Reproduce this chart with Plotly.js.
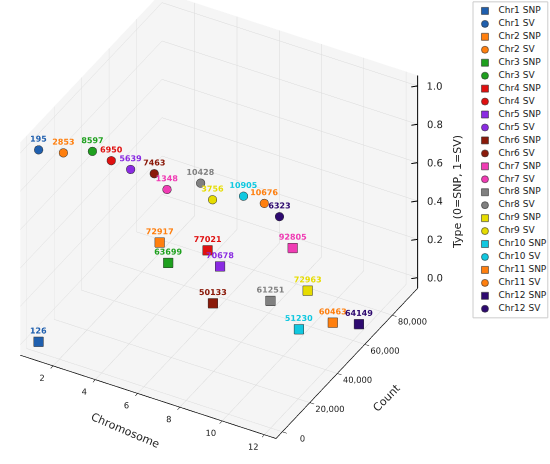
<!DOCTYPE html>
<html>
<head>
<meta charset="utf-8">
<script src="https://cdn.plot.ly/plotly-3.0.1.min.js"></script>
<style>html,body{margin:0;padding:0;background:#fff;}#chart{width:550px;height:464px;}</style>
</head>
<body>
<div id="chart"></div>
<script>
// ---- data ----
const chromosomes = [1, 2, 3, 4, 5, 6, 7, 8, 9, 10, 11, 12];
const snpCounts = [126, 72917, 63699, 77021, 70678, 50133, 92805, 61251, 72963, 51230, 60463, 64149];
const svCounts = [195, 2853, 8597, 6950, 5639, 7463, 1348, 10428, 3756, 10905, 10676, 6323];
const snpType = 0;
const svType = 1;
const chrColors = ['#1f5fae', '#ff7f0e', '#1ea01e', '#e01010', '#8a2be2', '#8b1a0a',
                   '#f03cb4', '#808080', '#e6dc00', '#10c8e0', '#ff7f0e', '#2e0a70'];
const xTicks = [2, 4, 6, 8, 10, 12];
const yTicks = [0, 20000, 40000, 60000, 80000];
const zTicks = [0, 0.2, 0.4, 0.6, 0.8, 1.0];
const xRange = [0.45, 12.55];
const yRange = [-4600, 98500];
const zRange = [-0.055, 1.055];

const FONT = 'DejaVu Sans, Liberation Sans, sans-serif';
const NB = '\u00a0';
const traces = [];

// 3D points
chromosomes.forEach((c, i) => {
  traces.push({
    type: 'scatter3d', mode: 'markers+text',
    x: [c], y: [snpCounts[i]], z: [snpType],
    text: [String(snpCounts[i])], textposition: 'top center',
    textfont: {family: FONT, size: 8, color: chrColors[i], weight: 'bold'},
    marker: {symbol: 'square', size: 5, color: chrColors[i], line: {color: '#333', width: 1}},
    showlegend: false, hoverinfo: 'skip'
  });
  traces.push({
    type: 'scatter3d', mode: 'markers+text',
    x: [c], y: [svCounts[i]], z: [svType],
    text: [String(svCounts[i])], textposition: 'top center',
    textfont: {family: FONT, size: 8, color: chrColors[i], weight: 'bold'},
    marker: {symbol: 'circle', size: 5, color: chrColors[i], line: {color: '#333', width: 1}},
    showlegend: false, hoverinfo: 'skip'
  });
});

// z axis drawn on the back-right vertical edge (as in the reference)
const zx = xRange[1], zy = yRange[1];
const zlx = [zx, zx], zly = [zy, zy], zlz = [zRange[0], zRange[1]];
zTicks.forEach(t => { zlx.push(null, zx - 0.2, zx); zly.push(null, zy - 1600, zy); zlz.push(null, t, t); });
traces.push({
  type: 'scatter3d', mode: 'lines', x: zlx, y: zly, z: zlz,
  line: {color: '#000', width: 2}, showlegend: false, hoverinfo: 'skip', connectgaps: false
});
traces.push({
  type: 'scatter3d', mode: 'text',
  x: zTicks.map(() => zx), y: zTicks.map(() => zy), z: zTicks,
  text: zTicks.map(t => NB + NB + t.toFixed(1)), textposition: 'middle right',
  textfont: {family: FONT, size: 10, color: '#222'},
  showlegend: false, hoverinfo: 'skip'
});

// custom legend drawn in a small 2D axis
const legX = [], legY = [], legText = [], legSym = [], legCol = [];
chromosomes.forEach((c, i) => {
  legX.push(0.16, 0.16); legY.push(2 * i, 2 * i + 1);
  legText.push('Chr' + c + ' SNP', 'Chr' + c + ' SV');
  legSym.push('square', 'circle'); legCol.push(chrColors[i], chrColors[i]);
});
traces.push({
  type: 'scatter', mode: 'markers', xaxis: 'x', yaxis: 'y',
  x: legX, y: legY,
  marker: {symbol: legSym, size: 7, color: legCol, line: {color: '#333', width: 0.6}},
  showlegend: false, hoverinfo: 'skip', cliponaxis: false
});
traces.push({
  type: 'scatter', mode: 'text', xaxis: 'x', yaxis: 'y',
  x: legX.map(v => v + 0.18), y: legY, text: legText, textposition: 'middle right',
  textfont: {family: FONT, size: 9, color: '#222'},
  showlegend: false, hoverinfo: 'skip', cliponaxis: false
});

const axisCommon = {
  showbackground: true, backgroundcolor: 'rgb(245,245,245)',
  gridcolor: 'rgb(218,218,218)', gridwidth: 1,
  showline: true, linecolor: '#000', linewidth: 1.5,
  ticks: 'outside', tickcolor: '#000', ticklen: 5,
  zeroline: false, showspikes: false,
  tickfont: {family: FONT, size: 10, color: '#222'}
};

// camera (orthographic), elevation / azimuth as in the reference view
const eyeDist = 2.0, elev = 36 * Math.PI / 180, azim = -61 * Math.PI / 180;
const ex = eyeDist * Math.cos(elev) * Math.cos(azim);
const ey = eyeDist * Math.cos(elev) * Math.sin(azim);
const ez = eyeDist * Math.sin(elev);
// shift camera in the screen plane so the box sits where it does in the reference
const shiftUp = 0.072, shiftRight = 0.0754;
const upV = [-Math.cos(azim) * Math.sin(elev), -Math.sin(azim) * Math.sin(elev), Math.cos(elev)];
const rightV = [-Math.sin(azim), Math.cos(azim), 0];
const cx = -shiftUp * upV[0] + shiftRight * rightV[0];
const cy = -shiftUp * upV[1] + shiftRight * rightV[1];
const cz = -shiftUp * upV[2] + shiftRight * rightV[2];
const boxScale = 1.26;

const layout = {
  width: 550, height: 464,
  margin: {l: 0, r: 0, t: 0, b: 0},
  paper_bgcolor: '#fff', plot_bgcolor: '#fff',
  font: {family: FONT},
  showlegend: false, hovermode: false,
  scene: {
    domain: {x: [0, 0.86], y: [0, 1]},
    xaxis: Object.assign({}, axisCommon, {title: {text: ''}, range: xRange, tickvals: xTicks, tickangle: 0}),
    yaxis: Object.assign({}, axisCommon, {title: {text: ''}, range: yRange, tickvals: yTicks, tickformat: ',d', tickangle: 0}),
    zaxis: Object.assign({}, axisCommon, {
      title: {text: ''}, range: zRange, tickvals: zTicks,
      showticklabels: false, ticks: '', showline: false
    }),
    aspectmode: 'manual', aspectratio: {x: boxScale, y: boxScale, z: 0.9 * boxScale},
    camera: {
      eye: {x: ex + cx, y: ey + cy, z: ez + cz},
      center: {x: cx, y: cy, z: cz}, up: {x: 0, y: 0, z: 1},
      projection: {type: 'orthographic'}
    }
  },
  xaxis: {domain: [0.86, 0.996], range: [0, 1], visible: false, fixedrange: true},
  yaxis: {domain: [0.315, 0.996], range: [23.7, -0.7], visible: false, fixedrange: true},
  shapes: [{
    type: 'rect', xref: 'paper', yref: 'paper', x0: 0.86, x1: 0.996, y0: 0.315, y1: 0.996,
    line: {color: '#cccccc', width: 1}, fillcolor: 'rgba(255,255,255,0)', layer: 'below'
  }],
  annotations: [
    {text: 'Chromosome', xref: 'paper', yref: 'paper', x: 125 / 550, y: 1 - 430 / 464,
     xanchor: 'center', yanchor: 'middle',
     showarrow: false, textangle: 23, font: {family: FONT, size: 11, color: '#222'}},
    {text: 'Count', xref: 'paper', yref: 'paper', x: 386 / 550, y: 1 - 398 / 464,
     xanchor: 'center', yanchor: 'middle',
     showarrow: false, textangle: -45, font: {family: FONT, size: 11, color: '#222'}},
    {text: 'Type (0=SNP, 1=SV)', xref: 'paper', yref: 'paper', x: 458 / 550, y: 1 - 192 / 464,
     xanchor: 'center', yanchor: 'middle',
     showarrow: false, textangle: -90, font: {family: FONT, size: 11, color: '#222'}}
  ]
};

Plotly.newPlot('chart', traces, layout, {displayModeBar: false});
</script>
</body>
</html>
